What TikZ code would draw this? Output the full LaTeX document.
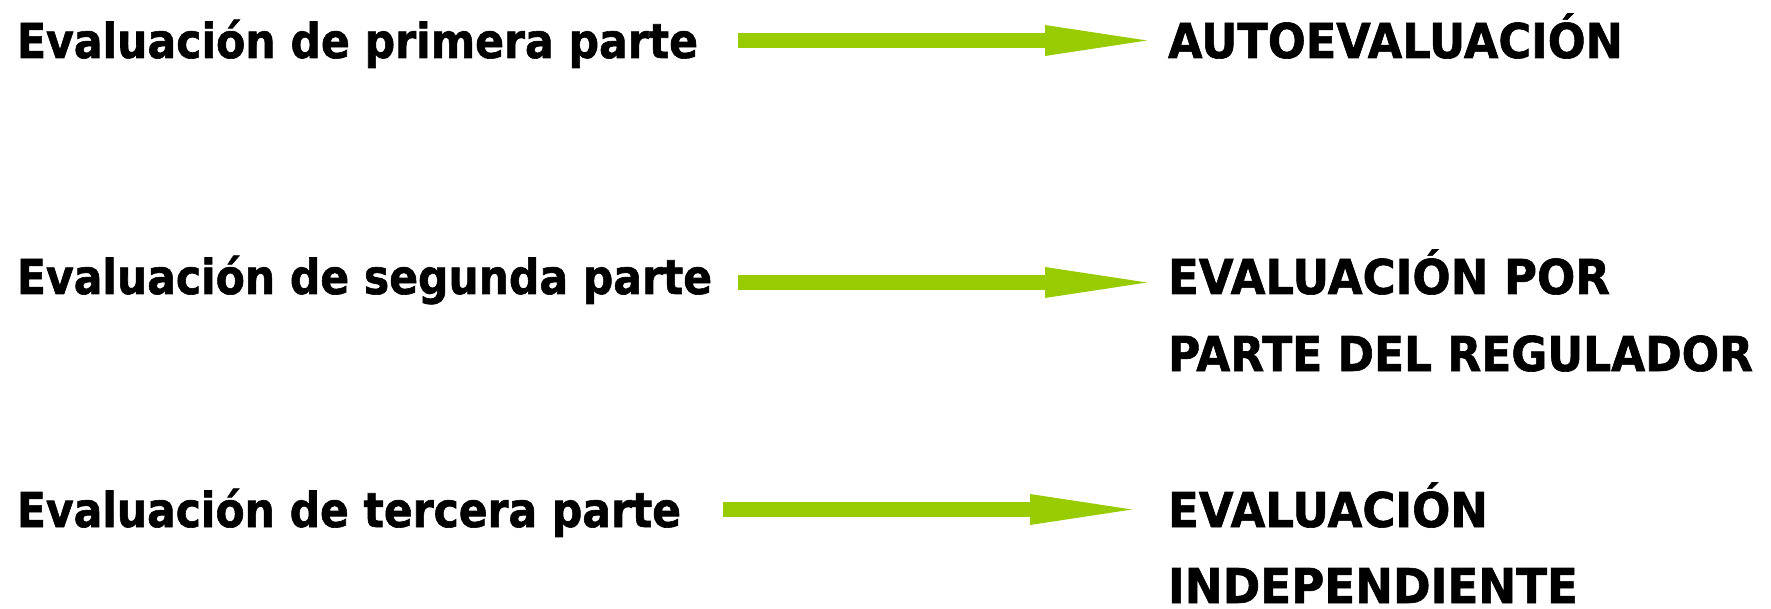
\documentclass[tikz,border=0pt]{standalone}
\usepackage{fontspec}
\setmainfont{DejaVu Sans}[BoldFeatures={FakeBold=1.3}]
\usetikzlibrary{arrows.meta}
\definecolor{arrowgreen}{HTML}{99CC00}
\newcommand{\fitw}[2]{\resizebox{#1}{\height}{#2}}
\tikzset{
  lbl/.style={anchor=base west, inner sep=0pt, outer sep=0pt, font=\fontsize{48}{58}\selectfont\bfseries, text=black},
  bigarrow/.style={draw=arrowgreen, line width=15pt, line cap=butt,
    -{Triangle[length=102pt, width=31pt, line width=0pt, fill=arrowgreen]}}
}
\begin{document}
\begin{tikzpicture}[x=1pt,y=-1pt]
\useasboundingbox (0,0) rectangle (1771,609);
% left column
\node[lbl] (l1) at (17,58) {\fitw{681pt}{Evaluación de primera parte}};
\node[lbl] (l2) at (17,294) {\fitw{695pt}{Evaluación de segunda parte}};
\node[lbl] (l3) at (17,527) {\fitw{664pt}{Evaluación de tercera parte}};
% right column
\node[lbl] (r1) at (1168,58) {\fitw{455pt}{AUTOEVALUACIÓN}};
\node[lbl] (r2a) at (1168,294) {\fitw{442pt}{EVALUACIÓN POR}};
\node[lbl] (r2b) at (1168,371) {\fitw{585pt}{PARTE DEL REGULADOR}};
\node[lbl] (r3a) at (1168,527) {\fitw{320pt}{EVALUACIÓN}};
\node[lbl] (r3b) at (1168,603) {\fitw{410pt}{INDEPENDIENTE}};
% arrows
\coordinate (s1) at (738,40.5);
\coordinate (e1) at (1147,40.5);
\coordinate (s2) at (738,282.5);
\coordinate (e2) at (1147,282.5);
\coordinate (s3) at (723,509.5);
\coordinate (e3) at (1132,509.5);
\draw[bigarrow] (s1) -- (e1);
\draw[bigarrow] (s2) -- (e2);
\draw[bigarrow] (s3) -- (e3);
\end{tikzpicture}
\end{document}
